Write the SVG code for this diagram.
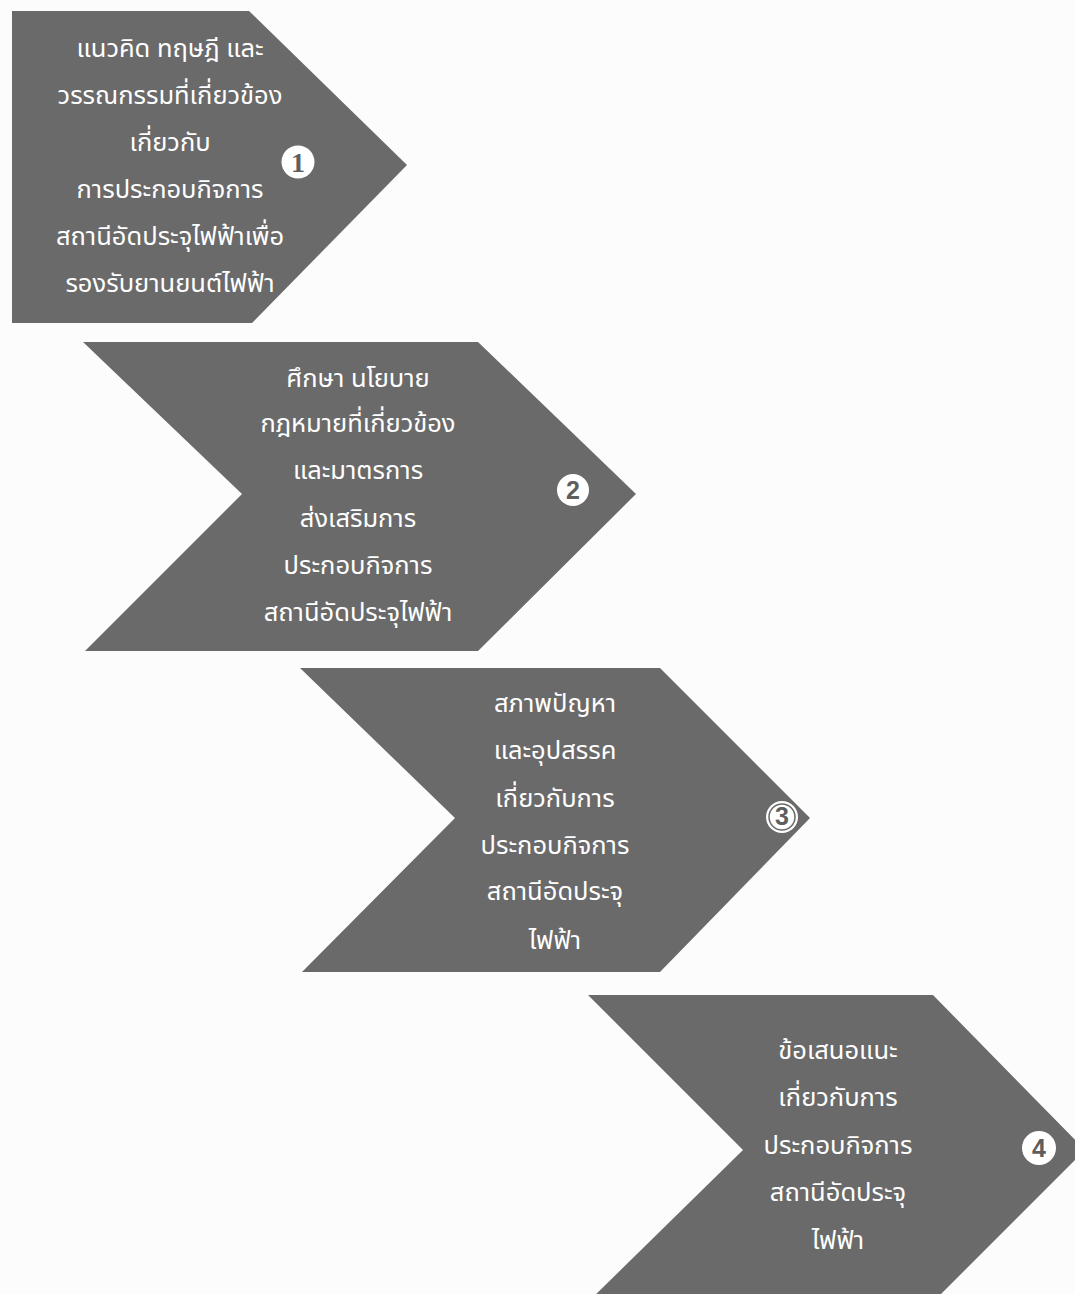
<svg xmlns="http://www.w3.org/2000/svg" width="1075" height="1294" viewBox="0 0 1075 1294">
<style>
.shape{fill:#6a6a6a;}
.t{font-family:"Noto Sans Thai","Noto Sans","DejaVu Sans",sans-serif;font-size:25.5px;fill:#ffffff;text-anchor:middle;}
.num{font-family:"Liberation Sans",Arial,sans-serif;font-weight:bold;font-size:25px;fill:#5e5e5e;text-anchor:middle;}
.numserif{font-family:"Liberation Serif","Times New Roman",serif;font-weight:bold;font-size:28px;fill:#5e5e5e;text-anchor:middle;}
.badge{fill:#ffffff;}
</style>
<rect width="1075" height="1294" fill="#fcfcfc"/>
<g id="step1">
<polygon class="shape" points="12,11 249,11 407,165 252,323 12,323"/>
<text class="t" x="170" y="57">แนวคิด ทฤษฎี และ</text>
<text class="t" x="170" y="104">วรรณกรรมที่เกี่ยวข้อง</text>
<text class="t" x="170" y="151">เกี่ยวกับ</text>
<text class="t" x="170" y="198">การประกอบกิจการ</text>
<text class="t" x="170" y="245">สถานีอัดประจุไฟฟ้าเพื่อ</text>
<text class="t" x="170" y="292">รองรับยานยนต์ไฟฟ้า</text>
<circle class="badge" cx="298" cy="162" r="16.5"/>
<text class="numserif" x="298" y="172">1</text>
</g>
<g id="step2">
<polygon class="shape" points="83,342 478,342 636,494 478,651 85,651 242,494"/>
<text class="t" x="358" y="387">ศึกษา นโยบาย</text>
<text class="t" x="358" y="432">กฎหมายที่เกี่ยวข้อง</text>
<text class="t" x="358" y="479">และมาตรการ</text>
<text class="t" x="358" y="527">ส่งเสริมการ</text>
<text class="t" x="358" y="574">ประกอบกิจการ</text>
<text class="t" x="358" y="621">สถานีอัดประจุไฟฟ้า</text>
<circle class="badge" cx="573" cy="490" r="16"/>
<text class="num" x="573" y="499">2</text>
</g>
<g id="step3">
<polygon class="shape" points="300,668 660,668 810,818 660,972 302,972 455,818"/>
<text class="t" x="555" y="712">สภาพปัญหา</text>
<text class="t" x="555" y="759">และอุปสรรค</text>
<text class="t" x="555" y="807">เกี่ยวกับการ</text>
<text class="t" x="555" y="854">ประกอบกิจการ</text>
<text class="t" x="555" y="900">สถานีอัดประจุ</text>
<text class="t" x="555" y="949">ไฟฟ้า</text>
<circle class="badge" cx="782" cy="817" r="16"/>
<circle cx="782" cy="817" r="13" fill="none" stroke="#6a6a6a" stroke-width="1.5"/>
<text class="num" x="782" y="825">3</text>
</g>
<g id="step4">
<polygon class="shape" points="588,995 933,995 1085,1150 930,1305 585,1305 743,1150"/>
<text class="t" x="838" y="1059">ข้อเสนอแนะ</text>
<text class="t" x="838" y="1106">เกี่ยวกับการ</text>
<text class="t" x="838" y="1154">ประกอบกิจการ</text>
<text class="t" x="838" y="1201">สถานีอัดประจุ</text>
<text class="t" x="838" y="1249">ไฟฟ้า</text>
<circle class="badge" cx="1039" cy="1148" r="17"/>
<text class="num" x="1039" y="1157">4</text>
</g>
<g id="connectors"></g>
</svg>
